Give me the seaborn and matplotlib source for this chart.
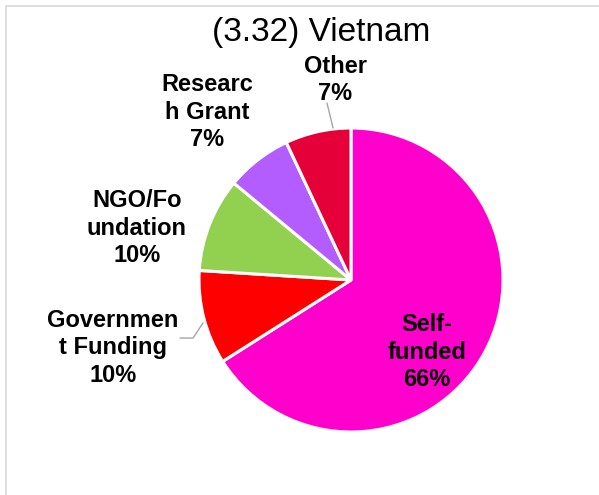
import matplotlib
matplotlib.use("Agg")
import matplotlib.pyplot as plt
import seaborn as sns
from matplotlib.patches import Rectangle

# data
categories = ["Self-\nfunded", "Governmen\nt Funding", "NGO/Fo\nundation", "Researc\nh Grant", "Other"]
shares = [66, 10, 10, 7, 7]
colors = ["#FF00CC", "#FF0000", "#92D050", "#B35CFF", "#E6003A"]

sns.set_theme(style="white")
plt.rcParams['font.family'] = ['Liberation Sans', 'DejaVu Sans']

fig = plt.figure(figsize=(5.99, 4.95), dpi=100)
ax = fig.add_axes([0, 0, 1, 1])

wedges, _ = ax.pie(
    shares,
    colors=colors,
    startangle=90,
    counterclock=False,
    radius=1.0,
    wedgeprops=dict(edgecolor="white", linewidth=2.2),
)

# pixel layout: centre (351, 280), radius 152
ax.set_xlim(-351 / 152, (599 - 351) / 152)
ax.set_ylim((280 - 495) / 152, 280 / 152)
ax.set_aspect("equal")
ax.axis("off")

# label positions (data units)
label_pos = [(0.50, -0.474), (-1.566, -0.447), (-1.408, 0.342), (-0.947, 1.105), (-0.105, 1.316)]
for cat, val, (x, y) in zip(categories, shares, label_pos):
    ax.text(x, y, f"{cat}\n{val}%", ha="center", va="center", fontsize=17,
            fontweight="bold", color="black", linespacing=1.27)

# leader lines
ax.plot([-0.158, -0.118], [1.164, 1.0], color="#A6A6A6", lw=1)
ax.plot([-1.125, -1.039, -0.974], [-0.382, -0.382, -0.283], color="#A6A6A6", lw=1)

fig.text(0.536, 1 - 33 / 495, "(3.32) Vietnam", ha="center", va="center", fontsize=24, color="black")

# chart frame (clipped at right/bottom)
fig.patches.append(Rectangle((6 / 599, -0.1), 1.2, 1.1 - 6 / 495, transform=fig.transFigure,
                             fill=False, edgecolor="#D9D9D9", lw=1.2))

fig.savefig("out.png", dpi=100)
